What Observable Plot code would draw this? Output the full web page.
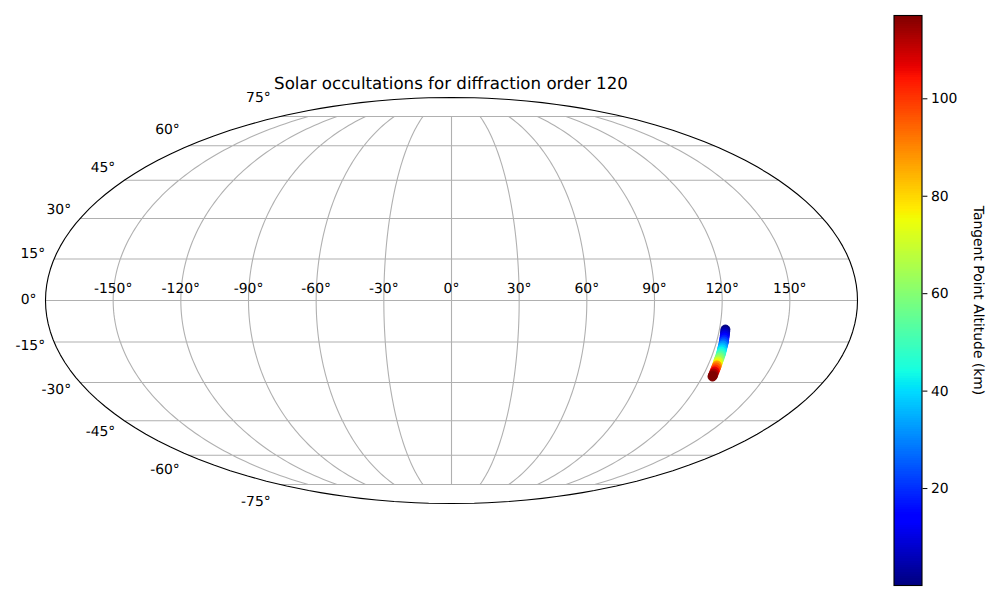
<!DOCTYPE html>
<html>
<head>
<meta charset="utf-8">
<script src="https://cdn.jsdelivr.net/npm/d3@7"></script>
<script src="https://cdn.jsdelivr.net/npm/@observablehq/plot@0.6"></script>
<style>
html,body{margin:0;padding:0;background:#fff;width:1000px;height:600px;overflow:hidden;font-family:"DejaVu Sans",sans-serif;text-rendering:geometricPrecision}
#map,#bar{position:absolute;top:0}
#map{left:0}
#bar{left:880px}
#title{position:absolute;left:0;width:902px;top:74px;text-align:center;font-size:16.67px;line-height:20px;color:#000}
svg{background:transparent !important;text-rendering:geometricPrecision}
</style>
</head>
<body>
<div id="map"></div>
<div id="bar"></div>
<div id="title">Solar occultations for diffraction order 120</div>
<script>
const titleText = "Solar occultations for diffraction order 120";
const colorbarLabel = "Tangent Point Altitude (km)";
const lonTicks = [-150,-120,-90,-60,-30,0,30,60,90,120,150];
const latTicks = [-75,-60,-45,-30,-15,0,15,30,45,60,75];
const barTicks = [20,40,60,80,100];
const altDomain = [0.1,117.1];

const altitudes = [0.5,4,7,10,14,18,22,26,31,35,39,43,47,52,58,63,70,76,88,94,100,107,113,116,117];
const latitudes = [-10.45,-11.2,-11.9,-12.6,-13.35,-14.1,-14.8,-15.5,-16.25,-17,-17.7,-18.45,-19.2,-19.9,-20.65,-21.4,-22.15,-22.85,-23.6,-24.35,-25.1,-25.85,-26.6,-27.35,-27.75];
const longitudes = [122.7,122.8,122.9,123,123.1,123.2,123.35,123.4,123.45,123.5,123.6,123.7,123.8,123.85,123.9,123.9,124,124.1,124.2,124.3,124.4,124.5,124.6,124.75,124.8];

const track = altitudes.map((a,i)=>({alt:a,lat:latitudes[i],lon:longitudes[i]}));

function mollweideRaw(l,p){
  let t=p;
  const c=Math.PI*Math.sin(p);
  for(let i=0;i<50;i++){
    const d=(2*t+Math.sin(2*t)-c)/(2+2*Math.cos(2*t)||1e-9);
    t-=d;
    if(Math.abs(d)<1e-9)break;
  }
  if(Math.abs(p)>=Math.PI/2-1e-9) t=Math.sign(p)*Math.PI/2;
  return [2*Math.SQRT2/Math.PI*l*Math.cos(t),Math.SQRT2*Math.sin(t)];
}
const proj=d3.geoProjection(mollweideRaw).rotate([0,0]).scale(203/Math.SQRT2).translate([451,300]).precision(0.1);

function jet(t){
  const f=(pts)=>{
    for(let i=1;i<pts.length;i++) if(t<=pts[i][0]){
      const [a,b]=[pts[i-1],pts[i]];
      return a[1]+(b[1]-a[1])*(t-a[0])/(b[0]-a[0]);
    }
    return pts[pts.length-1][1];
  };
  const r=f([[0,0],[.35,0],[.66,1],[.89,1],[1,.5]]);
  const g=f([[0,0],[.125,0],[.375,1],[.64,1],[.91,0],[1,0]]);
  const b=f([[0,.5],[.11,1],[.34,1],[.65,0],[1,0]]);
  return `rgb(${Math.round(r*255)},${Math.round(g*255)},${Math.round(b*255)})`;
}
const colorOpt={type:"linear",domain:altDomain,interpolate:jet};

const degrees=d3.range(-180,181,1);
const latSpan=d3.range(-75,75.5,1);
const grid={type:"MultiLineString",coordinates:[
  ...lonTicks.map(lon=>latSpan.map(lat=>[lon,lat])),
  ...latTicks.map(lat=>degrees.map(lon=>[lon,lat]))
]};

const labelFont={fontSize:13.9,fill:"#000",stroke:"none"};
const fmt=d=>`${d}°`;

const map=Plot.plot({
  width:1000,height:600,margin:0,
  style:{fontFamily:"DejaVu Sans",background:"transparent"},
  projection:proj,
  color:colorOpt,
  marks:[
    Plot.geo(grid,{stroke:"#b0b0b0",strokeWidth:1.1}),
    Plot.sphere({stroke:"#000",strokeWidth:1.1}),
    Plot.dot(track,{x:"lon",y:"lat",fill:"alt",stroke:"alt",r:4.5,strokeWidth:1}),
    Plot.text(lonTicks,{x:d=>d,y:()=>0,text:fmt,dy:-11.5,textAnchor:"middle",lineAnchor:"middle",...labelFont}),
    ...latTicks.map(t=>{
      const py=proj([-180,t])[1];
      return Plot.text([t],{x:()=>-179.999,y:d=>d,text:fmt,dx:-9,dy:0.1*(py-300)-1,textAnchor:"end",lineAnchor:"middle",...labelFont});
    })
  ]
});
document.getElementById("map").append(map);

const levels=d3.range(256);
const span=altDomain[1]-altDomain[0];
const cells=levels.map(i=>({
  y1:altDomain[0]+span*i/256,
  y2:altDomain[0]+span*(i+1)/256,
  v:altDomain[0]+span*(i+.5)/256
}));
const bar=Plot.plot({
  width:120,height:600,
  marginLeft:13.5,marginRight:78.5,marginTop:15,marginBottom:15,
  style:{fontFamily:"DejaVu Sans",fontSize:"13.9px",background:"transparent"},
  x:{domain:[0,1],axis:null},
  y:{domain:altDomain,axis:null},
  color:colorOpt,
  marks:[
    Plot.rect(cells,{x1:()=>0,x2:()=>1,y1:"y1",y2:"y2",fill:"v",shapeRendering:"crispEdges"}),
    Plot.frame({stroke:"#000",strokeWidth:1.1}),
    Plot.axisY(barTicks,{anchor:"right",tickSize:4.9,tickPadding:4,label:null,fontSize:13.9,tickFormat:d=>String(d),stroke:"#000",color:"#000"}),
    Plot.text([colorbarLabel],{frameAnchor:"right",rotate:90,dx:56.5,textAnchor:"middle",lineAnchor:"middle",fontSize:13.9,fill:"#000"})
  ]
});
document.getElementById("bar").append(bar);
document.getElementById("title").textContent=titleText;
</script>
</body>
</html>
